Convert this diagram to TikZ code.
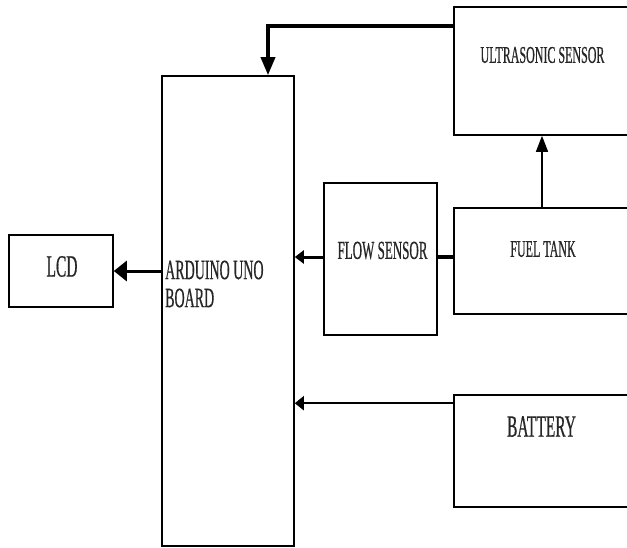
\documentclass[tikz,border=0pt]{standalone}
\usepackage{fontspec}
\setmainfont{Liberation Serif}
\newfontfamily\condfont[FakeStretch=0.5, FakeBold=0.5]{Liberation Serif}
\usetikzlibrary{arrows.meta}

\begin{document}
\begin{tikzpicture}[
    x=1pt, y=-1pt,
    blk/.style={rectangle, draw=black, line width=1.6pt, fill=white, inner sep=0pt},
    lbl/.style={font=\condfont\fontsize{#1}{#1}\selectfont, inner sep=0pt, text=black!85},
    lbl/.default=24,
    conn/.style={line width=2.5pt, -{Triangle[length=10pt, width=14pt]}}
]
    \clip (0,0) rectangle (627,547);
    \fill[white] (0,0) rectangle (627,547);

    % Blocks (right-hand ones run off the page edge)
    \node[blk, minimum width=132pt, minimum height=470pt] (ard) at (228,311) {};
    \node[blk, minimum width=104pt, minimum height=72pt] (lcd) at (61,271) {};
    \node[blk, minimum width=186pt, minimum height=128pt] (ultra) at (547,71) {};
    \node[blk, minimum width=113pt, minimum height=152pt] (flow) at (380.5,259) {};
    \node[blk, minimum width=186pt, minimum height=106pt] (fuel) at (547,261) {};
    \node[blk, minimum width=186pt, minimum height=112pt] (batt) at (547,451) {};

    % Labels
    \node[lbl=31] (lcdT) at (62,266.5) {LCD};
    \node[lbl=28, align=left, anchor=west] (ardT) at (165,284) {ARDUINO UNO\\BOARD};
    \node[lbl] (ultraT) at (542.5,55) {ULTRASONIC SENSOR};
    \node[lbl=26] (flowT) at (382.5,250.5) {FLOW SENSOR};
    \node[lbl] (fuelT) at (543,249) {FUEL TANK};
    \node[lbl=31] (battT) at (541.5,426.5) {BATTERY};

    % Connectors
    \draw[conn, line width=3.5pt, -{Triangle[length=18pt, width=14pt]}] ([yshift=-20pt]ultra.north west) -| ([xshift=40pt]ard.north);
    \draw[conn, line width=1.5pt, -{Triangle[length=16pt, width=12pt]}] ([xshift=-5pt]fuel.north) -- ([xshift=-5pt]ultra.south);
    \draw[conn, line width=3pt, -{Triangle[length=9pt, width=13pt]}] ([yshift=2pt]flow.west) -- ([yshift=2pt]flow.west -| ard.east);
    \draw[line width=4.5pt] ([yshift=2pt]flow.east) -- ([yshift=2pt]flow.east -| fuel.west);
    \draw[conn, line width=2pt, -{Triangle[length=9pt, width=14pt]}] ([yshift=-9pt]batt.north west) -- ([yshift=-9pt]batt.north west -| ard.east);
    \draw[conn, line width=3pt, -{Triangle[length=13pt, width=20pt]}] (lcd.east -| ard.west) -- (lcd.east);
\end{tikzpicture}
\end{document}
